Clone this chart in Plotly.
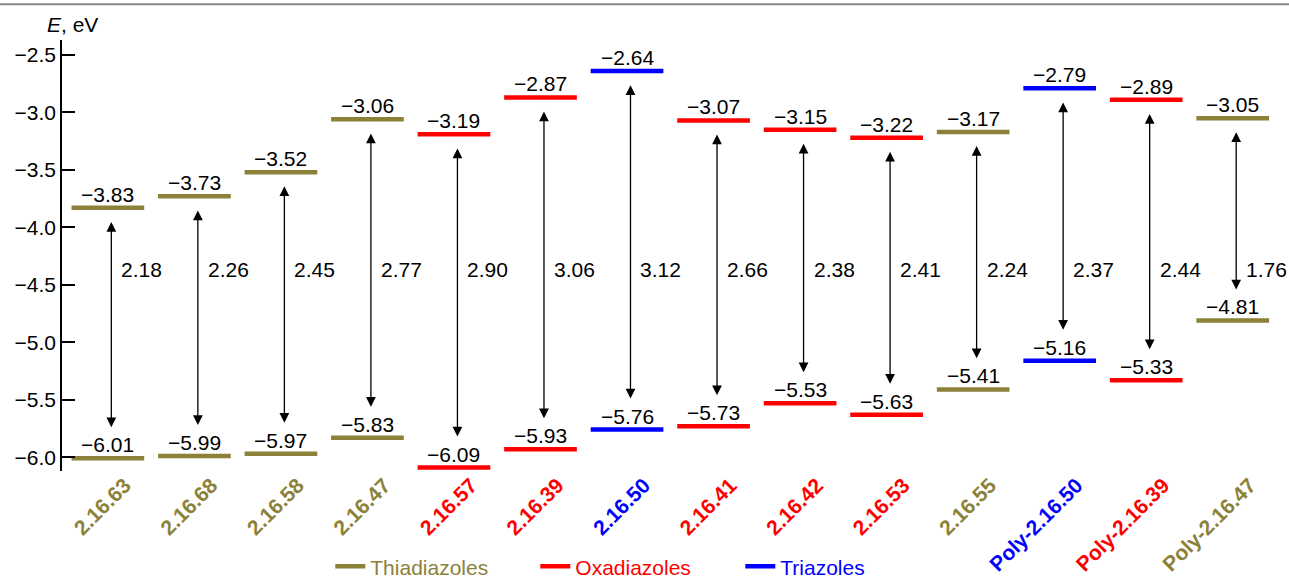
import plotly.graph_objects as go

# Compounds, in plotting order
categories = ["2.16.63", "2.16.68", "2.16.58", "2.16.47", "2.16.57", "2.16.39", "2.16.50",
              "2.16.41", "2.16.42", "2.16.53", "2.16.55", "Poly-2.16.50", "Poly-2.16.39",
              "Poly-2.16.47"]
classes = ["Thiadiazoles", "Thiadiazoles", "Thiadiazoles", "Thiadiazoles", "Oxadiazoles",
           "Oxadiazoles", "Triazoles", "Oxadiazoles", "Oxadiazoles", "Oxadiazoles",
           "Thiadiazoles", "Triazoles", "Oxadiazoles", "Thiadiazoles"]
# Frontier orbital energies, eV
lumo = [-3.83, -3.73, -3.52, -3.06, -3.19, -2.87, -2.64, -3.07, -3.15, -3.22, -3.17, -2.79, -2.89, -3.05]
homo = [-6.01, -5.99, -5.97, -5.83, -6.09, -5.93, -5.76, -5.73, -5.53, -5.63, -5.41, -5.16, -5.33, -4.81]
# Band gaps, eV
gaps = [2.18, 2.26, 2.45, 2.77, 2.90, 3.06, 3.12, 2.66, 2.38, 2.41, 2.24, 2.37, 2.44, 1.76]
y_ticks = [-2.5, -3.0, -3.5, -4.0, -4.5, -5.0, -5.5, -6.0]

class_order = ["Thiadiazoles", "Oxadiazoles", "Triazoles"]
colors = {"Thiadiazoles": "#8b8139", "Oxadiazoles": "#ff0000", "Triazoles": "#0000ff"}

FONT = "Liberation Sans, Arial, Helvetica, sans-serif"
FS = 21
HALF = 0.42          # half-width of an energy level, in category units
GAP_LABEL_Y = -4.37  # common height of the gap labels
PAD_TOP = 0.11       # clearance between the arrow tip and the LUMO level
PAD_BOTTOM = 0.27    # clearance above the HOMO level (leaves room for its label)


def fmt(v, nd=2):
    return f"{v:.{nd}f}".replace("-", "\u2212")


fig = go.Figure()

# Energy levels: one trace per compound class, segments separated by None
for cls in class_order:
    xs, ys = [], []
    for i, c in enumerate(classes):
        if c != cls:
            continue
        for e in (lumo[i], homo[i]):
            xs += [i - HALF, i + HALF, None]
            ys += [e, e, None]
    fig.add_trace(go.Scatter(
        x=xs, y=ys, mode="lines", name=f"<span style='color:{colors[cls]}'>{cls}</span>",
        line=dict(color=colors[cls], width=4.5), hoverinfo="skip",
    ))

annotations = []
for i in range(len(categories)):
    # level values above each level
    for e in (lumo[i], homo[i]):
        annotations.append(dict(
            x=i, y=e, xref="x", yref="y", text=fmt(e), showarrow=False,
            yanchor="bottom", yshift=0, font=dict(size=FS, color="black", family=FONT),
        ))
    # double-headed arrow between HOMO and LUMO
    annotations.append(dict(
        x=i + 0.04, y=homo[i] + PAD_BOTTOM, ax=i + 0.04, ay=lumo[i] - PAD_TOP,
        xref="x", yref="y", axref="x", ayref="y", text="", showarrow=True,
        arrowhead=2, arrowside="end+start", arrowsize=1.5, arrowwidth=1.3,
        arrowcolor="black",
    ))
    # band gap value
    annotations.append(dict(
        x=i + 0.04, y=GAP_LABEL_Y, xref="x", yref="y", text=f"{gaps[i]:.2f}", showarrow=False,
        xanchor="left", xshift=8, font=dict(size=FS, color="black", family=FONT),
    ))

# axis title
annotations.append(dict(
    x=0, y=1.0, xref="paper", yref="paper", text="<i>E</i>, eV", showarrow=False,
    xanchor="left", yanchor="bottom", xshift=-17, yshift=2,
    font=dict(size=FS, color="black", family=FONT),
))

ticktext = [f"<span style='color:{colors[c]}'><b>{name}</b></span>"
            for name, c in zip(categories, classes)]

fig.update_layout(
    width=1289, height=583,
    margin=dict(l=62, r=13, t=40, b=112, autoexpand=False),
    paper_bgcolor="white", plot_bgcolor="white",
    font=dict(family=FONT, size=FS, color="black"),
    showlegend=True,
    legend=dict(orientation="h", x=0.221, y=-0.222, xanchor="left", yanchor="middle",
                font=dict(size=21, family=FONT), itemwidth=30, traceorder="normal",
                entrywidth=160, entrywidthmode="pixels", tracegroupgap=0,
                bgcolor="rgba(0,0,0,0)"),
    xaxis=dict(
        range=[-0.53, 13.5], tickmode="array", tickvals=list(range(len(categories))),
        ticktext=ticktext, tickangle=-45, showline=False, showgrid=False, zeroline=False,
        ticks="", tickfont=dict(size=21, family=FONT), automargin=False,
        ticklabelstandoff=-3, ticklabelshift=17,
    ),
    yaxis=dict(
        range=[-6.12, -2.37], tickmode="array", tickvals=y_ticks,
        ticktext=[fmt(v, 1) for v in y_ticks],
        showline=True, linecolor="black", linewidth=1.5, ticks="inside", ticklen=13,
        tickwidth=1.5, tickcolor="black", showgrid=False, zeroline=False,
        tickfont=dict(size=FS, family=FONT), automargin=False,
    ),
    annotations=annotations,
    shapes=[dict(type="line", xref="paper", yref="paper", x0=-0.06, x1=1.02,
                 y0=1.083, y1=1.083, line=dict(color="#888888", width=2))],
)

fig.write_html("out.html")
